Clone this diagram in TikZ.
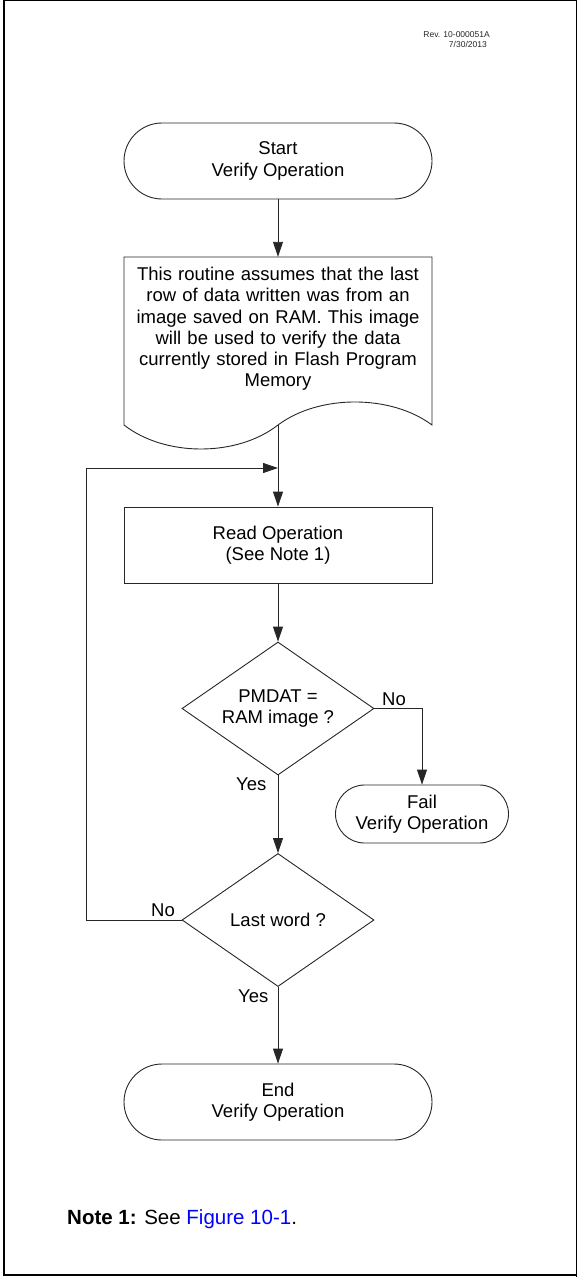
\documentclass[tikz,border=0pt]{standalone}
\usepackage{fontspec}
\setmainfont{Liberation Sans}
\usetikzlibrary{shapes.geometric,arrows.meta}
\definecolor{linec}{gray}{0.15}
\definecolor{linkblue}{RGB}{0,0,255}
\tikzset{
  mainfont/.style={font=\fontsize{18.5}{21.2}\selectfont},
  term/.style={draw=linec, line width=0.9pt, rounded corners=38pt, minimum width=308pt, minimum height=76pt, align=center, mainfont, inner sep=0pt},
  smallterm/.style={draw=linec, line width=0.9pt, rounded corners=29pt, minimum width=173pt, minimum height=58pt, align=center, mainfont, inner sep=0pt},
  procbox/.style={draw=linec, line width=0.9pt, minimum width=308pt, minimum height=76pt, align=center, mainfont, inner sep=0pt},
  decision/.style={draw=linec, line width=0.9pt, diamond, aspect=1.44, minimum width=192pt, minimum height=133pt, align=center, mainfont, inner sep=0pt},
  conn/.style={draw=linec, line width=0.9pt},
  arr/.style={conn, -{Triangle[length=15pt,width=10pt]}},
  lbl/.style={mainfont, inner sep=0pt, anchor=base west},
}
\begin{document}
\begin{tikzpicture}[x=1pt,y=-1pt]
\useasboundingbox (0,0) rectangle (577,1277);
% frame
\draw[line width=2.5pt] (4,0) -- (4,1276.2);
\draw[line width=1.3pt] (2.75,0.7) -- (577,0.7);
\draw[line width=1.8pt] (2.75,1275.3) -- (577,1275.3);
\draw[line width=1pt] (576,0) -- (576,1277);
% revision
\node[anchor=base east, inner sep=0pt, font=\fontsize{8.5}{10}\selectfont, text=black!85] (rev) at (490,37) {Rev. 10-000051A};
\node[anchor=base east, inner sep=0pt, font=\fontsize{8.5}{10}\selectfont, text=black!85] (date) at (487,47) {7/30/2013};
% start
\node[term] (start) at (278,161) {Start\\Verify Operation};
% document
\node[minimum width=308pt, minimum height=168pt, inner sep=0pt] (doc) at (278,341) {};
\draw[conn] (124,425) -- (124,257) -- (432,257) -- (432,425)
  .. controls (391,394.3) and (319,394.3) .. (278,425)
  .. controls (237,457) and (165,457) .. (124,425) -- cycle;
\node[mainfont, align=center, text width=300pt, inner sep=0pt] (doctext) at (278,329)
  {This routine assumes that the last\\row of data written was from an\\image saved on RAM. This image\\will be used to verify the data\\currently stored in Flash Program\\Memory};
% read
\node[procbox] (read) at (278,545) {Read Operation\\(See Note 1)};
\coordinate (join) at (278,468);
% decisions
\node[decision] (d1) at (278,708.5) {PMDAT =\\RAM image ?};
\node[smallterm] (fail) at (422,814) {Fail\\Verify Operation};
\node[decision] (d2) at (278,920) {Last word ?};
\node[term] (endn) at (278,1102) {End\\Verify Operation};
% connectors
\draw[arr] (start.south) -- (doc.north);
\draw[arr] (doc.south) -- (read.north);
\draw[arr] (d2.west) -- (86,920) |- (join);
\draw[arr] (read.south) -- (d1.north);
\draw[arr] (d1.east) -| (fail.north);
\draw[arr] (d1.south) -- (d2.north);
\draw[arr] (d2.south) -- (endn.north);
% labels
\node[lbl] (no1) at (382,705) {No};
\node[lbl] (yes1) at (236,790) {Yes};
\node[lbl] (no2) at (151,916) {No};
\node[lbl] (yes2) at (238,1002) {Yes};
% note
\node[anchor=base west, inner sep=0pt, font=\fontsize{20.5}{24}\selectfont] (note) at (67,1224)
  {\textbf{Note 1:} See \textcolor{linkblue}{Figure 10-1}.};
\end{tikzpicture}
\end{document}
